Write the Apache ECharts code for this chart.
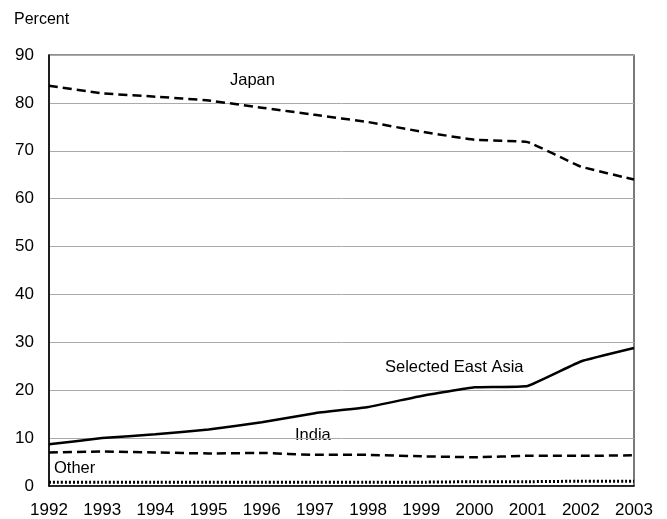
<!DOCTYPE html>
<html><head><meta charset="utf-8">
<script src="https://cdn.jsdelivr.net/npm/echarts@6/dist/echarts.min.js"></script>
<style>html,body{margin:0;padding:0;background:#fff}#c{width:667px;height:519px}</style>
</head><body><div id="c"></div>
<script>
const years = ['1992','1993','1994','1995','1996','1997','1998','1999','2000','2001','2002','2003'];
const japan = [83.6, 82.0, 81.3, 80.5, 79.0, 77.5, 76.0, 74.0, 72.3, 71.8, 66.7, 64.0];
const eastAsia = [8.7, 10.0, 10.8, 11.8, 13.3, 15.2, 16.5, 18.8, 20.6, 20.9, 26.0, 28.8];
const india = [7.0, 7.2, 7.0, 6.8, 6.9, 6.5, 6.5, 6.2, 6.0, 6.3, 6.3, 6.4];
const other = [0.8, 0.8, 0.8, 0.8, 0.8, 0.8, 0.8, 0.8, 0.9, 0.9, 1.0, 1.0];
const yTicks = [0, 10, 20, 30, 40, 50, 60, 70, 80, 90];

const FONT = '"Liberation Sans Narrow", "Arial Narrow", "Liberation Sans", sans-serif';
const chart = echarts.init(document.getElementById('c'), null, {renderer: 'canvas'});
const lineBase = {type: 'line', symbol: 'none', smooth: 0.1, silent: true};
chart.setOption({
  animation: false,
  grid: {left: 49, right: 33, top: 55, bottom: 33, show: true, borderColor: '#222', borderWidth: 1.2,
         containLabel: false, outerBoundsMode: 'none'},
  xAxis: {
    type: 'category', data: years, boundaryGap: false,
    axisLine: {lineStyle: {color: '#000', width: 1.5}},
    axisTick: {show: false},
    axisLabel: {color: '#000', fontFamily: FONT, fontSize: 17, margin: 16, interval: 0}
  },
  yAxis: {
    type: 'value', min: yTicks[0], max: yTicks[yTicks.length - 1], interval: 10,
    axisLine: {show: true, lineStyle: {color: '#000', width: 1.5}},
    axisTick: {show: false},
    splitLine: {lineStyle: {color: '#aaa', width: 1}},
    axisLabel: {color: '#000', fontFamily: FONT, fontSize: 17, margin: 15}
  },
  series: [
    Object.assign({}, lineBase, {name: 'Japan', data: japan, lineStyle: {color: '#000', width: 2.5, type: [9, 5]}}),
    Object.assign({}, lineBase, {name: 'Selected East Asia', data: eastAsia, lineStyle: {color: '#000', width: 2.5, type: 'solid'}}),
    Object.assign({}, lineBase, {name: 'India', data: india, lineStyle: {color: '#000', width: 2.5, type: [9, 5]}}),
    Object.assign({}, lineBase, {name: 'Other', data: other, lineStyle: {color: '#000', width: 3, type: [2, 2]}})
  ],
  graphic: [
    {type: 'text', left: 14, top: 12, style: {text: 'Percent', font: '16px ' + FONT, fill: '#000'}},
    {type: 'text', left: 230, top: 72, style: {text: 'Japan', font: '16.5px ' + FONT, fill: '#000'}},
    {type: 'text', left: 385, top: 359, style: {text: 'Selected East Asia', font: '16.5px ' + FONT, fill: '#000'}},
    {type: 'text', left: 295, top: 427, style: {text: 'India', font: '16.5px ' + FONT, fill: '#000'}},
    {type: 'text', left: 54, top: 460, style: {text: 'Other', font: '16.5px ' + FONT, fill: '#000'}}
  ]
});
</script></body></html>
